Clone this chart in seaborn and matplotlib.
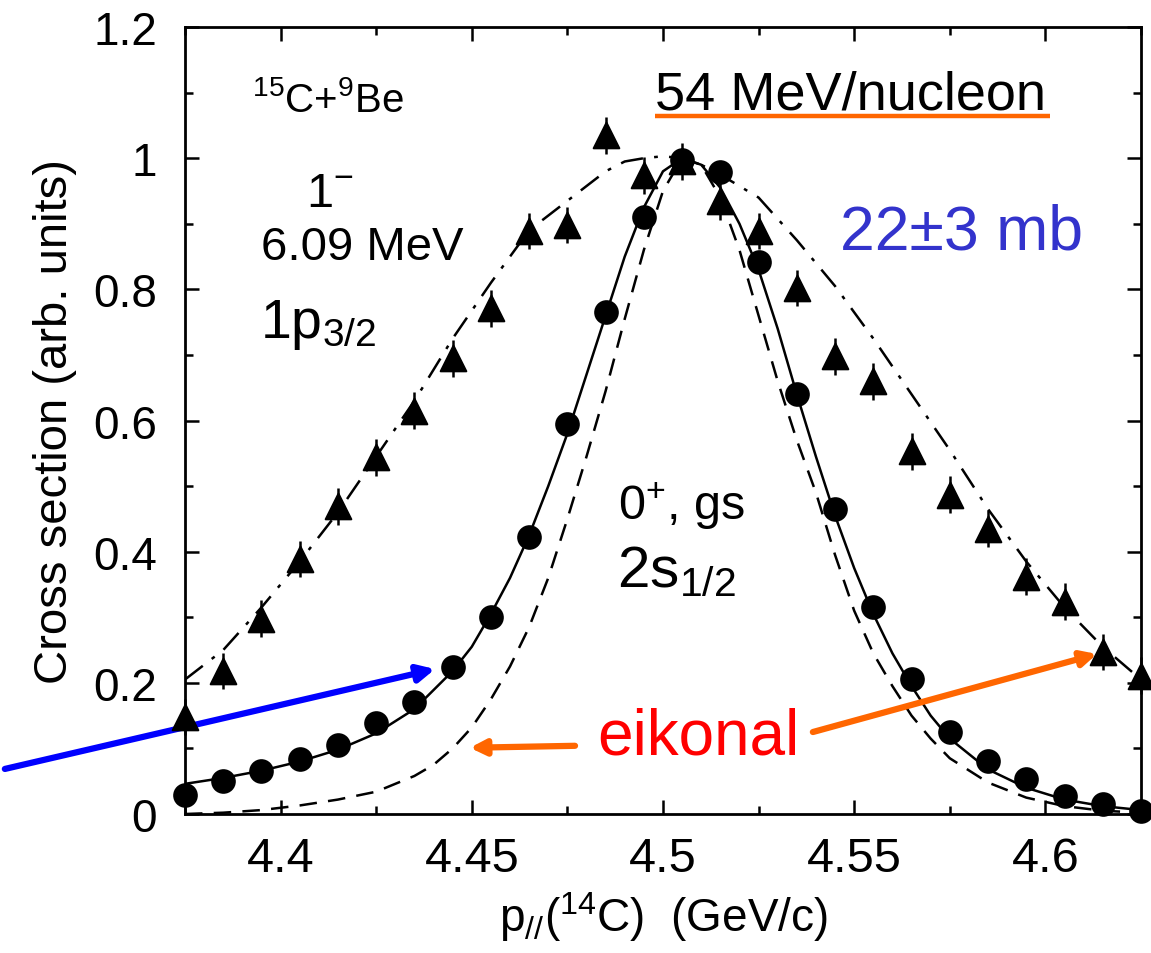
import matplotlib
matplotlib.use("Agg")
import matplotlib.pyplot as plt
import seaborn as sns
import pandas as pd
from matplotlib.ticker import MultipleLocator

# Measured momentum distributions (normalised)
p_meas = [4.375, 4.385, 4.395, 4.405, 4.415, 4.425, 4.435, 4.445, 4.455,
          4.465, 4.475, 4.485, 4.495, 4.505, 4.515, 4.525, 4.535, 4.545,
          4.555, 4.565, 4.575, 4.585, 4.595, 4.605, 4.615, 4.625]
gs_meas = [0.029, 0.050, 0.066, 0.084, 0.105, 0.139, 0.171, 0.224, 0.301,
           0.423, 0.595, 0.766, 0.911, 0.998, 0.979, 0.841, 0.641, 0.465,
           0.316, 0.206, 0.125, 0.081, 0.053, 0.027, 0.015, 0.005]
ex_meas = [0.148, 0.218, 0.298, 0.389, 0.469, 0.544, 0.615, 0.695, 0.771,
           0.889, 0.898, 1.035, 0.974, 0.995, 0.934, 0.889, 0.802, 0.698,
           0.660, 0.553, 0.487, 0.435, 0.362, 0.324, 0.247, 0.211]
gs_err = [0.008] * 26
ex_err = [0.028] * 26

# Calculated distributions
p_gs_calc = [4.375, 4.385, 4.395, 4.405, 4.415, 4.425, 4.435, 4.445, 4.450,
             4.455, 4.460, 4.465, 4.470, 4.475, 4.480, 4.485, 4.490, 4.495,
             4.500, 4.505, 4.510, 4.515, 4.520, 4.525, 4.530, 4.535, 4.540,
             4.545, 4.550, 4.555, 4.560, 4.565, 4.570, 4.575, 4.585, 4.595,
             4.605, 4.615, 4.625]
gs_calc = [0.046, 0.055, 0.066, 0.080, 0.098, 0.123, 0.160, 0.218, 0.255,
           0.305, 0.360, 0.425, 0.500, 0.580, 0.670, 0.760, 0.850, 0.925,
           0.980, 1.000, 0.990, 0.955, 0.900, 0.830, 0.740, 0.640, 0.545,
           0.455, 0.375, 0.305, 0.245, 0.195, 0.150, 0.115, 0.068, 0.040,
           0.022, 0.012, 0.006]

p_eik = [4.375, 4.385, 4.395, 4.405, 4.415, 4.425, 4.435, 4.440, 4.445,
         4.450, 4.455, 4.460, 4.465, 4.470, 4.475, 4.480, 4.485, 4.490,
         4.495, 4.500, 4.505, 4.510, 4.515, 4.520, 4.525, 4.530, 4.535,
         4.540, 4.545, 4.550, 4.555, 4.560, 4.565, 4.570, 4.575, 4.585,
         4.595, 4.605, 4.615, 4.625]
eik_calc = [0.000, 0.002, 0.006, 0.013, 0.022, 0.034, 0.058, 0.075, 0.100,
            0.132, 0.175, 0.225, 0.285, 0.360, 0.450, 0.545, 0.645, 0.755,
            0.860, 0.950, 1.000, 0.990, 0.940, 0.860, 0.760, 0.660, 0.570,
            0.490, 0.395, 0.310, 0.245, 0.195, 0.150, 0.115, 0.085, 0.048,
            0.025, 0.012, 0.005, 0.002]

p_ex_calc = [4.375, 4.385, 4.395, 4.405, 4.415, 4.425, 4.435, 4.445, 4.455,
             4.465, 4.475, 4.485, 4.490, 4.495, 4.500, 4.505, 4.510, 4.515,
             4.525, 4.535, 4.545, 4.555, 4.565, 4.575, 4.585, 4.595, 4.605,
             4.615, 4.625]
ex_calc = [0.205, 0.250, 0.315, 0.385, 0.460, 0.545, 0.630, 0.725, 0.810,
           0.890, 0.935, 0.980, 0.995, 1.000, 1.003, 1.000, 0.990, 0.975,
           0.940, 0.875, 0.805, 0.725, 0.640, 0.555, 0.465, 0.385, 0.315,
           0.255, 0.205]

x_ticks = [4.4, 4.45, 4.5, 4.55, 4.6]
x_tick_labels = ["4.4", "4.45", "4.5", "4.55", "4.6"]
y_ticks = [0, 0.2, 0.4, 0.6, 0.8, 1.0, 1.2]
y_tick_labels = ["0", "0.2", "0.4", "0.6", "0.8", "1", "1.2"]

sns.set_style("ticks")
plt.rcParams["font.family"] = ["Liberation Sans", "DejaVu Sans"]
plt.rcParams["mathtext.fontset"] = "custom"
plt.rcParams["mathtext.rm"] = "Liberation Sans"
plt.rcParams["mathtext.it"] = "Liberation Sans"
plt.rcParams["mathtext.default"] = "regular"
for key in ["text.color", "axes.labelcolor", "xtick.color", "ytick.color",
            "axes.edgecolor"]:
    plt.rcParams[key] = "black"

fig = plt.figure(figsize=(11.51, 9.54), dpi=100)
ax = fig.add_axes([0.1607, 0.1457, 0.8306, 0.8249])

df_gs = pd.DataFrame({"p": p_gs_calc, "cs": gs_calc})
df_eik = pd.DataFrame({"p": p_eik, "cs": eik_calc})
df_ex = pd.DataFrame({"p": p_ex_calc, "cs": ex_calc})

sns.lineplot(data=df_gs, x="p", y="cs", ax=ax, color="black", lw=1.8)
sns.lineplot(data=df_eik, x="p", y="cs", ax=ax, color="black", lw=1.8)
ax.lines[-1].set_dashes([7, 4.5])
sns.lineplot(data=df_ex, x="p", y="cs", ax=ax, color="black", lw=1.8)
ax.lines[-1].set_dashes([9, 4.5, 1.5, 4.5])

ax.errorbar(p_meas, ex_meas, yerr=ex_err, fmt="none", ecolor="black",
            elinewidth=1.8, capsize=0, clip_on=False, zorder=3)
ax.errorbar(p_meas, gs_meas, yerr=gs_err, fmt="none", ecolor="black",
            elinewidth=1.8, capsize=0, clip_on=False, zorder=3)
sns.scatterplot(x=p_meas, y=gs_meas, ax=ax, marker="o", s=270,
                color="black", edgecolor="black", clip_on=False, zorder=4)
sns.scatterplot(x=p_meas, y=ex_meas, ax=ax, marker="^", s=340,
                color="black", edgecolor="black", clip_on=False, zorder=4)

ax.set_xlim(4.375, 4.625)
ax.set_ylim(0, 1.2)
ax.set_xticks(x_ticks)
ax.set_xticklabels(x_tick_labels)
ax.set_yticks(y_ticks)
ax.set_yticklabels(y_tick_labels)
ax.xaxis.set_minor_locator(MultipleLocator(0.025))
ax.yaxis.set_minor_locator(MultipleLocator(0.1))
ax.tick_params(which="both", direction="in", top=True, right=True,
               width=1.8, color="black")
ax.tick_params(which="major", length=10)
ax.tick_params(which="minor", length=6)
ax.tick_params(axis="x", which="major", labelsize=35, pad=16)
ax.tick_params(axis="y", which="major", labelsize=33, pad=20)
for s in ax.spines.values():
    s.set_linewidth(2.0)
    s.set_color("black")

ax.set_xlabel(r"p$_{//}$($^{14}$C)  (GeV/c)", fontsize=33, labelpad=6)
ax.set_ylabel("Cross section (arb. units)", fontsize=34, labelpad=12)

# Annotations
ax.text(4.4124, 1.072, r"$^{15}$C+$^{9}$Be", fontsize=29, ha="center",
        va="baseline")
ax.text(4.4129, 0.927, r"1$^{-}$", fontsize=35, ha="center", va="baseline")
ax.text(4.4213, 0.847, "6.09 MeV", fontsize=34, ha="center", va="baseline")
ax.text(4.3946, 0.728, r"1p$_{3/2}$", fontsize=40, ha="left", va="baseline")
ax.text(4.4979, 1.076, "54 MeV/nucleon", fontsize=39, ha="left",
        va="baseline")
ax.plot([4.4979, 4.6012], [1.064, 1.064], color="#ff6600", lw=3.2,
        solid_capstyle="butt")
ax.text(4.5463, 0.863, "22±3 mb", fontsize=45, ha="left", va="baseline",
        color="#3333cc")
ax.text(4.4882, 0.450, r"0$^{+}$, gs", fontsize=35, ha="left", va="baseline")
ax.text(4.488, 0.348, r"2s$_{1/2}$", fontsize=42, ha="left", va="baseline")
ax.text(4.4827, 0.0916, "eikonal", fontsize=46, ha="left", va="baseline",
        color="red")

arrow_blue = dict(arrowstyle="-|>,head_length=1.0,head_width=0.5",
                  color="#0000ff", lw=4.5, shrinkA=0, shrinkB=0)
arrow_orange = dict(arrowstyle="-|>,head_length=0.9,head_width=0.45",
                    color="#ff6600", lw=4.5, shrinkA=0, shrinkB=0)
ax.annotate("", xy=(4.4404, 0.221), xytext=(4.3279, 0.0687),
            arrowprops=arrow_blue, annotation_clip=False)
ax.annotate("", xy=(4.4495, 0.101), xytext=(4.477, 0.104),
            arrowprops=arrow_orange, annotation_clip=False)
ax.annotate("", xy=(4.6135, 0.244), xytext=(4.5392, 0.125),
            arrowprops=arrow_orange, annotation_clip=False)

fig.savefig("out.png", dpi=100)
